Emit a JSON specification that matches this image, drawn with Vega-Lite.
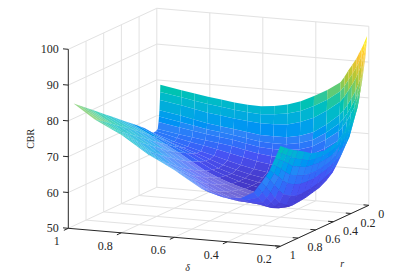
{"$schema":"https://vega.github.io/schema/vega-lite/v6.json","width":415,"height":279,"padding":0,"autosize":{"type":"fit","contains":"padding"},"background":"white","config":{"view":{"stroke":null}},
"datasets":{
"grid":[
{"d1":1,"r1":1,"z1":50,"d2":1,"r2":0,"z2":50},{"d1":0.8,"r1":1,"z1":50,"d2":0.8,"r2":0,"z2":50},{"d1":0.6,"r1":1,"z1":50,"d2":0.6,"r2":0,"z2":50},{"d1":0.4,"r1":1,"z1":50,"d2":0.4,"r2":0,"z2":50},{"d1":0.2,"r1":1,"z1":50,"d2":0.2,"r2":0,"z2":50},
{"d1":1,"r1":0.8,"z1":50,"d2":0.2,"r2":0.8,"z2":50},{"d1":1,"r1":0.6,"z1":50,"d2":0.2,"r2":0.6,"z2":50},{"d1":1,"r1":0.4,"z1":50,"d2":0.2,"r2":0.4,"z2":50},{"d1":1,"r1":0.2,"z1":50,"d2":0.2,"r2":0.2,"z2":50},{"d1":1,"r1":0,"z1":50,"d2":0.2,"r2":0,"z2":50},
{"d1":1,"r1":0.8,"z1":50,"d2":1,"r2":0.8,"z2":100},{"d1":1,"r1":0.6,"z1":50,"d2":1,"r2":0.6,"z2":100},{"d1":1,"r1":0.4,"z1":50,"d2":1,"r2":0.4,"z2":100},{"d1":1,"r1":0.2,"z1":50,"d2":1,"r2":0.2,"z2":100},{"d1":1,"r1":0,"z1":50,"d2":1,"r2":0,"z2":100},
{"d1":1,"r1":1,"z1":60,"d2":1,"r2":0,"z2":60},{"d1":1,"r1":1,"z1":70,"d2":1,"r2":0,"z2":70},{"d1":1,"r1":1,"z1":80,"d2":1,"r2":0,"z2":80},{"d1":1,"r1":1,"z1":90,"d2":1,"r2":0,"z2":90},{"d1":1,"r1":1,"z1":100,"d2":1,"r2":0,"z2":100},
{"d1":0.8,"r1":0,"z1":50,"d2":0.8,"r2":0,"z2":100},{"d1":0.6,"r1":0,"z1":50,"d2":0.6,"r2":0,"z2":100},{"d1":0.4,"r1":0,"z1":50,"d2":0.4,"r2":0,"z2":100},{"d1":0.2,"r1":0,"z1":50,"d2":0.2,"r2":0,"z2":100},
{"d1":1,"r1":0,"z1":60,"d2":0.2,"r2":0,"z2":60},{"d1":1,"r1":0,"z1":70,"d2":0.2,"r2":0,"z2":70},{"d1":1,"r1":0,"z1":80,"d2":0.2,"r2":0,"z2":80},{"d1":1,"r1":0,"z1":90,"d2":0.2,"r2":0,"z2":90},{"d1":1,"r1":0,"z1":100,"d2":0.2,"r2":0,"z2":100}
],
"axes":[
{"d1":1,"r1":1,"z1":50,"d2":1,"r2":1,"z2":100},{"d1":1,"r1":1,"z1":50,"d2":0.2,"r2":1,"z2":50},{"d1":0.2,"r1":1,"z1":50,"d2":0.2,"r2":0,"z2":50},
{"d1":1,"r1":1,"z1":50,"d2":1.02,"r2":1,"z2":50},{"d1":1,"r1":1,"z1":60,"d2":1.02,"r2":1,"z2":60},{"d1":1,"r1":1,"z1":70,"d2":1.02,"r2":1,"z2":70},{"d1":1,"r1":1,"z1":80,"d2":1.02,"r2":1,"z2":80},{"d1":1,"r1":1,"z1":90,"d2":1.02,"r2":1,"z2":90},{"d1":1,"r1":1,"z1":100,"d2":1.02,"r2":1,"z2":100},
{"d1":1,"r1":1,"z1":50,"d2":1,"r2":1.05,"z2":50},{"d1":0.8,"r1":1,"z1":50,"d2":0.8,"r2":1.05,"z2":50},{"d1":0.6,"r1":1,"z1":50,"d2":0.6,"r2":1.05,"z2":50},{"d1":0.4,"r1":1,"z1":50,"d2":0.4,"r2":1.05,"z2":50},{"d1":0.2,"r1":1,"z1":50,"d2":0.2,"r2":1.05,"z2":50},
{"d1":0.2,"r1":1,"z1":50,"d2":0.22,"r2":1,"z2":50},{"d1":0.2,"r1":0.8,"z1":50,"d2":0.22,"r2":0.8,"z2":50},{"d1":0.2,"r1":0.6,"z1":50,"d2":0.22,"r2":0.6,"z2":50},{"d1":0.2,"r1":0.4,"z1":50,"d2":0.22,"r2":0.4,"z2":50},{"d1":0.2,"r1":0.2,"z1":50,"d2":0.22,"r2":0.2,"z2":50},{"d1":0.2,"r1":0,"z1":50,"d2":0.22,"r2":0,"z2":50}
]
},
"encoding":{"x":{"field":"sx","type":"quantitative","scale":{"domain":[0,415],"nice":false,"zero":false},"axis":null},"y":{"field":"sy","type":"quantitative","scale":{"domain":[279,0],"nice":false,"zero":false},"axis":null}},
"layer":[
{"data":{"name":"grid"},"transform":[{"calculate":"68.3+265*(1-datum.d1)+88.5*(1-datum.r1)","as":"sx"},{"calculate":"228.3+22.5*(1-datum.d1)-41*(1-datum.r1)-3.58*(datum.z1-50)","as":"sy"},{"calculate":"68.3+265*(1-datum.d2)+88.5*(1-datum.r2)","as":"ex"},{"calculate":"228.3+22.5*(1-datum.d2)-41*(1-datum.r2)-3.58*(datum.z2-50)","as":"ey"}],"mark":{"type":"rule","color":"#e2e2e2","strokeWidth":1},"encoding":{"x2":{"field":"ex"},"y2":{"field":"ey"}}},
{"data":{"name":"axes"},"transform":[{"calculate":"68.3+265*(1-datum.d1)+88.5*(1-datum.r1)","as":"sx"},{"calculate":"228.3+22.5*(1-datum.d1)-41*(1-datum.r1)-3.58*(datum.z1-50)","as":"sy"},{"calculate":"68.3+265*(1-datum.d2)+88.5*(1-datum.r2)","as":"ex"},{"calculate":"228.3+22.5*(1-datum.d2)-41*(1-datum.r2)-3.58*(datum.z2-50)","as":"ey"}],"mark":{"type":"rule","color":"#262626","strokeWidth":1},"encoding":{"x2":{"field":"ex"},"y2":{"field":"ey"}}},
{"data":{"values":[
{"d":0.98,"v":[79,77,74.8,72,70.3,68.8,67,66.6,66.5,67.6,69,70.4,72,73.4,75,76.4,78,79.4,81,82,83,84,85]},
{"d":0.9,"v":[78,76,73.8,71,69.3,67.8,66,65.2,64.5,65,66,67.4,69,70.4,72,73.3,74.8,76,77.5,78.4,79.3,80.2,81]},
{"d":0.85,"v":[77.4,75.4,73.1,70.2,68.6,67.2,65.5,64.4,63.5,63.7,64.5,65.6,67,68.2,69.7,71,72.5,73.8,75.2,76.2,77.2,78.2,79.2]},
{"d":0.8,"v":[76.8,74.8,72.4,69.5,67.9,66.6,65,63.7,62.5,62.5,63,63.9,65,66.1,67.5,68.8,70.3,71.6,73,74.1,75.2,76.3,77.4]},
{"d":0.75,"v":[76.3,74.3,71.9,69,67.4,66.1,64.5,63,61.5,61.1,61.2,61.9,62.7,63.7,65,66.2,67.6,69,70.5,71.6,72.7,73.8,75]},
{"d":0.7,"v":[75.8,73.8,71.4,68.5,66.9,65.6,64,62.2,60.5,59.8,59.5,59.9,60.5,61.4,62.5,63.6,65,66.4,68,69.1,70.3,71.4,72.6]},
{"d":0.65,"v":[75.5,73.4,71,68,66.3,64.9,63.2,61.4,59.6,58.8,58.3,58.5,58.9,59.7,60.7,61.7,63,64.4,66,67.1,68.3,69.5,70.7]},
{"d":0.6,"v":[75.4,73.2,70.7,67.5,65.7,64.2,62.5,60.6,58.8,57.9,57.3,57.3,57.5,58.2,59,59.9,61,62.4,64,65.2,66.4,67.6,68.8]},
{"d":0.55,"v":[75.8,73.5,70.7,67.4,65.5,64,62.1,60.1,58.2,57.2,56.5,56.4,56.4,56.9,57.5,58.2,59.1,60.3,61.8,62.9,64,65.2,66.5]},
{"d":0.5,"v":[76.5,74,71,67.5,65.6,64,62,59.9,57.8,56.8,56,55.7,55.5,55.8,56.2,56.8,57.5,58.6,60,61,62,63.1,64.3]},
{"d":0.45,"v":[77.7,75,72,68.2,66.2,64.5,62.5,60.2,58,56.9,56,55.7,55.6,55.8,56,56.4,56.8,57.8,59.2,60.1,61,62,63.2]},
{"d":0.4,"v":[79.5,76.7,73.5,69.5,67.4,65.6,63.5,61,58.5,57.4,56.5,56.1,56,56.1,56.3,56.4,56.5,57.6,59,59.7,60.5,61.4,62.4]},
{"d":0.35,"v":[81.5,78.8,75.8,72,69.7,67.8,65.5,62.8,60,58.3,57,56.5,56.3,56.3,56.3,56.4,56.5,57.4,58.5,59.3,60.2,61.3,62.5]},
{"d":0.3,"v":[84,81.5,78.6,75,72.6,70.5,68,65,62,60,58.5,57.6,57,56.6,56.3,56.2,56.2,56.8,57.8,59,60.5,62.4,64.5]},
{"d":0.285,"v":[85.6,83,80,76.3,74,71.9,69.4,66.4,63.4,61.3,59.6,58.5,57.7,57.2,56.8,56.6,56.5,57.2,58.5,60,61.9,63.9,66]},
{"d":0.27,"v":[87.5,84.8,81.8,78,75.6,73.5,71,68,65,62.8,61,59.6,58.5,58,57.5,57.2,57,57.9,59.5,61.3,63.5,65.5,67.5]},
{"d":0.255,"v":[89.2,86.6,83.6,79.9,77.6,75.6,73.2,70.3,67.4,65.2,63.4,62.1,61,60.5,60,59.8,59.8,60.6,61.9,63.6,65.6,67.5,69.2]},
{"d":0.24,"v":[91,88.5,85.6,82,79.7,77.8,75.5,72.8,70,67.8,66,65,64,63.5,63,63,63.2,63.9,65,66.4,68,69.5,71]},
{"d":0.23,"v":[92.5,90.1,87.4,84,81.8,80,77.7,75.3,72.7,70.5,68.7,67.3,66,65.6,65.2,65.3,65.6,66.4,67.5,68.8,70.2,71.5,72.7]},
{"d":0.22,"v":[94,91.8,89.2,86,83.9,82.1,80,77.8,75.5,73.3,71.5,69.6,68,67.7,67.5,67.7,68,68.9,70,71.2,72.5,73.5,74.5]},
{"d":0.21,"v":[95.7,94.2,92.4,90.2,88.4,86.8,85,82,79.2,76.4,74,71.8,70,69.6,69.3,69.5,70,71,72.2,73.2,74.2,75.2,76.2]},
{"d":0.2,"v":[97.5,96.7,95.7,94.5,92.9,91.6,90,86.5,83,79.5,76.5,74,72,71.5,71,71.4,72,73.2,74.5,75.2,76,77,78]}
]},
"transform":[
{"calculate":"[0.02,0.022,0.025,0.03,0.035,0.04,0.05,0.07,0.1,0.15,0.2,0.27,0.35,0.42,0.5,0.57,0.65,0.72,0.8,0.85,0.9,0.95,1]","as":"rs"},
{"flatten":["v","rs"],"as":["z","r"]},
{"calculate":"indexof([0.98,0.9,0.85,0.8,0.75,0.7,0.65,0.6,0.55,0.5,0.45,0.4,0.35,0.3,0.285,0.27,0.255,0.24,0.23,0.22,0.21,0.2],datum.d)","as":"i"},
{"calculate":"indexof([0.02,0.022,0.025,0.03,0.035,0.04,0.05,0.07,0.1,0.15,0.2,0.27,0.35,0.42,0.5,0.57,0.65,0.72,0.8,0.85,0.9,0.95,1],datum.r)","as":"j"},
{"calculate":"[{p:datum.i*100+datum.j,c:0},{p:datum.i*100+datum.j-1,c:1},{p:(datum.i-1)*100+datum.j-1,c:2},{p:(datum.i-1)*100+datum.j,c:3}]","as":"k"},
{"flatten":["k"]},
{"calculate":"datum.k.p","as":"p"},{"calculate":"datum.k.c","as":"c"},
{"joinaggregate":[{"op":"count","as":"n"},{"op":"mean","field":"z","as":"mz"},{"op":"mean","field":"r","as":"mr"},{"op":"mean","field":"d","as":"md"}],"groupby":["p"]},
{"filter":"datum.n==4"},
{"calculate":"68.3+265*(1-datum.d)+88.5*(1-datum.r)","as":"sx"},
{"calculate":"228.3+22.5*(1-datum.d)-41*(1-datum.r)-3.58*(datum.z-50)","as":"sy"}
],
"mark":{"type":"line","filled":true,"interpolate":"linear"},
"encoding":{"detail":{"field":"p","type":"nominal"},"order":{"field":"c","type":"quantitative"},"opacity":{"condition":{"test":"datum.mr>0.35&&datum.md>0.33","value":0.75},"value":1},"color":{"field":"mz","type":"quantitative","legend":null,"scale":{"domain":[53,61.7,67.9,73.6,79.4,85,91.2,97],"range":["#3e26a8","#4752f4","#2d87f7","#11b1d6","#37c897","#abc739","#fec338","#f9fb15"]}}}},
{"data":{"values":[{"t":"50","z":50},{"t":"60","z":60},{"t":"70","z":70},{"t":"80","z":80},{"t":"90","z":90},{"t":"100","z":100}]},"transform":[{"calculate":"68.3","as":"sx"},{"calculate":"228.3-3.58*(datum.z-50)","as":"sy"}],"mark":{"type":"text","align":"right","baseline":"middle","dx":-9.5,"fontSize":12,"font":"Liberation Serif","color":"#262626"},"encoding":{"text":{"field":"t"}}},
{"data":{"values":[{"t":"1","d":1},{"t":"0.8","d":0.8},{"t":"0.6","d":0.6},{"t":"0.4","d":0.4},{"t":"0.2","d":0.2}]},"transform":[{"calculate":"68.3+265*(1-datum.d)","as":"sx"},{"calculate":"228.3+22.5*(1-datum.d)","as":"sy"}],"mark":{"type":"text","align":"right","baseline":"middle","dx":-8.5,"dy":13,"fontSize":12,"font":"Liberation Serif","color":"#262626"},"encoding":{"text":{"field":"t"}}},
{"data":{"values":[{"t":"1","r":1},{"t":"0.8","r":0.8},{"t":"0.6","r":0.6},{"t":"0.4","r":0.4},{"t":"0.2","r":0.2},{"t":"0","r":0}]},"transform":[{"calculate":"280.3+88.5*(1-datum.r)","as":"sx"},{"calculate":"246.3-41*(1-datum.r)","as":"sy"}],"mark":{"type":"text","align":"left","baseline":"middle","dx":9.5,"dy":9,"fontSize":12,"font":"Liberation Serif","color":"#262626"},"encoding":{"text":{"field":"t"}}},
{"data":{"values":[{"t":"δ","d":0.55}]},"transform":[{"calculate":"68.3+265*(1-datum.d)","as":"sx"},{"calculate":"228.3+22.5*(1-datum.d)","as":"sy"}],"mark":{"type":"text","align":"center","baseline":"middle","dy":30,"fontSize":10,"fontStyle":"italic","font":"Liberation Serif","color":"#262626"},"encoding":{"text":{"field":"t"}}},
{"data":{"values":[{"t":"r","r":0.3}]},"transform":[{"calculate":"280.3+88.5*(1-datum.r)","as":"sx"},{"calculate":"246.3-41*(1-datum.r)","as":"sy"}],"mark":{"type":"text","align":"center","baseline":"middle","dy":46,"fontSize":10,"fontStyle":"italic","font":"Liberation Serif","color":"#262626"},"encoding":{"text":{"field":"t"}}},
{"data":{"values":[{"t":"CBR","z":75}]},"transform":[{"calculate":"68.3","as":"sx"},{"calculate":"228.3-3.58*(datum.z-50)","as":"sy"}],"mark":{"type":"text","align":"center","baseline":"middle","angle":270,"dy":-37,"fontSize":10,"font":"Liberation Serif","color":"#262626"},"encoding":{"text":{"field":"t"}}}
]}
